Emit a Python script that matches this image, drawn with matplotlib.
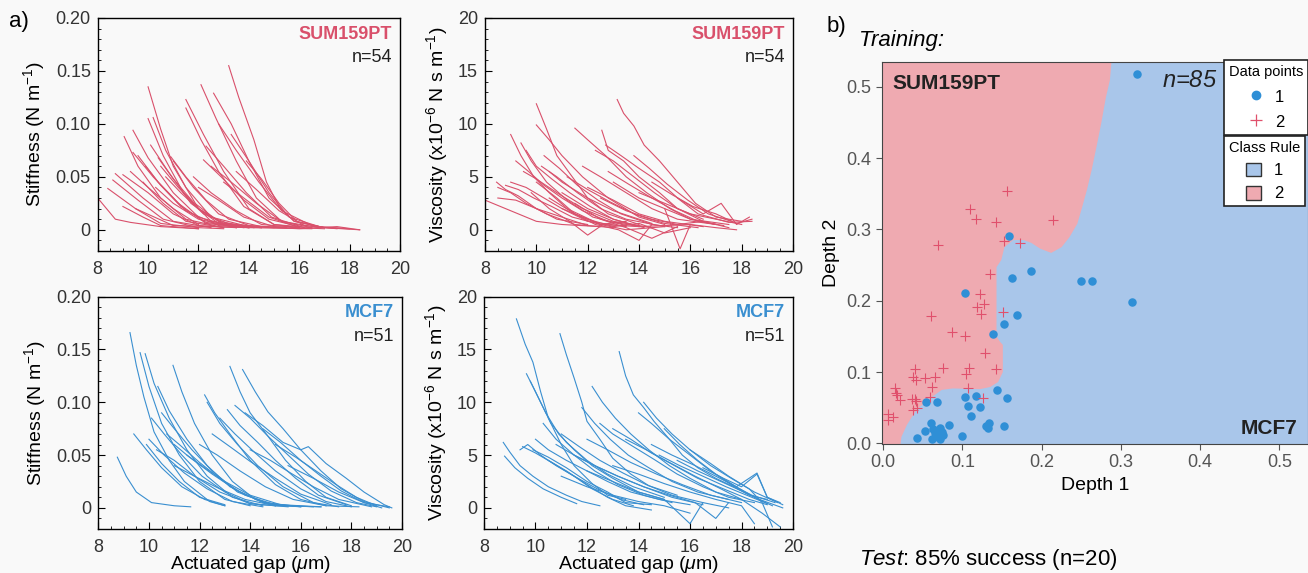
# stiffness / viscosity traces and the depth classifier map
import matplotlib
matplotlib.use('Agg')
import matplotlib.pyplot as plt
from matplotlib.lines import Line2D
from matplotlib.patches import Patch
from matplotlib.ticker import MultipleLocator

plt.rcParams['font.family'] = ['Liberation Sans', 'DejaVu Sans']
plt.rcParams['mathtext.fontset'] = 'custom'
plt.rcParams['mathtext.rm'] = 'Liberation Sans'
plt.rcParams['mathtext.it'] = 'Liberation Sans:italic'

red = '#d9506b'
blue = '#3a8fd0'
bg = '#f9f9f9'

# ---- panel a data: each trace is a list of (gap um, value) points ----
sum_stiff = [
    [(8.0, 0.030), (8.7, 0.010), (9.3, 0.007), (10.5, 0.003), (12.0, 0.001)],
    [(8.4, 0.039), (9.5, 0.020), (10.5, 0.006), (12.0, 0.002)],
    [(8.6, 0.047), (9.6, 0.028), (10.6, 0.010), (12.0, 0.002), (13.0, 0.001)],
    [(8.7, 0.053), (9.8, 0.030), (11.0, 0.008), (12.5, 0.002)],
    [(9.0, 0.052), (10.0, 0.035), (11.0, 0.015), (12.0, 0.004), (13.5, 0.002)],
    [(9.05, 0.088), (9.6, 0.060), (10.5, 0.030), (11.5, 0.010), (13.0, 0.002)],
    [(9.4, 0.094), (10.0, 0.068), (11.0, 0.035), (12.0, 0.012), (13.5, 0.002)],
    [(9.4, 0.073), (10.2, 0.050), (11.2, 0.025), (12.3, 0.006), (14.0, 0.002)],
    [(9.3, 0.055), (10.0, 0.040), (11.0, 0.020), (12.0, 0.005)],
    [(9.0, 0.022), (9.8, 0.012), (10.5, 0.004), (12.0, 0.001)],
    [(9.6, 0.070), (10.4, 0.045), (11.5, 0.018), (12.8, 0.004), (14.0, 0.002)],
    [(9.8, 0.045), (10.6, 0.025), (11.5, 0.008), (13.0, 0.002)],
    [(10.0, 0.135), (10.5, 0.095), (11.0, 0.060), (12.0, 0.020), (13.0, 0.005), (14.5, 0.002)],
    [(10.2, 0.106), (10.7, 0.075), (11.5, 0.040), (12.5, 0.012), (14.0, 0.003)],
    [(10.0, 0.105), (10.6, 0.070), (11.4, 0.035), (12.5, 0.008), (14.0, 0.002)],
    [(10.1, 0.080), (10.8, 0.055), (11.7, 0.025), (12.8, 0.006), (14.5, 0.002)],
    [(10.9, 0.069), (11.5, 0.050), (12.3, 0.028), (13.2, 0.010), (14.5, 0.003), (15.5, 0.002)],
    [(10.5, 0.060), (11.2, 0.040), (12.0, 0.020), (13.0, 0.006), (15.0, 0.002)],
    [(10.7, 0.050), (11.3, 0.035), (12.2, 0.015), (13.5, 0.003)],
    [(11.0, 0.065), (11.8, 0.040), (12.8, 0.015), (14.0, 0.004), (15.5, 0.002)],
    [(10.3, 0.040), (11.0, 0.025), (12.0, 0.010), (13.5, 0.002)],
    [(9.9, 0.060), (10.5, 0.042), (11.3, 0.022), (12.3, 0.007), (13.8, 0.002)],
    [(10.4, 0.068), (11.0, 0.048), (11.8, 0.026), (12.8, 0.008), (14.2, 0.002)],
    [(11.5, 0.123), (12.2, 0.090), (13.0, 0.055), (14.0, 0.020), (15.0, 0.005), (16.5, 0.002)],
    [(11.5, 0.115), (12.1, 0.085), (12.8, 0.055), (13.8, 0.022), (15.0, 0.005), (16.0, 0.002)],
    [(12.1, 0.137), (12.7, 0.105), (13.5, 0.065), (14.3, 0.030), (15.3, 0.008), (16.5, 0.002)],
    [(12.6, 0.129), (13.3, 0.100), (14.0, 0.065), (14.8, 0.030), (15.8, 0.008), (17.0, 0.002)],
    [(12.2, 0.066), (12.9, 0.050), (13.8, 0.028), (14.8, 0.010), (16.0, 0.003)],
    [(12.3, 0.079), (13.0, 0.060), (13.9, 0.035), (14.9, 0.012), (16.2, 0.002)],
    [(11.8, 0.050), (12.5, 0.035), (13.5, 0.018), (14.5, 0.005), (16.0, 0.002)],
    [(12.5, 0.060), (13.3, 0.045), (14.3, 0.025), (15.3, 0.008), (16.8, 0.002)],
    [(12.0, 0.040), (12.8, 0.028), (13.8, 0.012), (15.0, 0.003), (17.0, 0.001)],
    [(13.2, 0.155), (13.6, 0.125), (14.2, 0.085), (14.7, 0.045), (15.2, 0.022), (15.8, 0.008), (17.0, 0.002), (18.0, 0.001)],
    [(13.9, 0.065), (14.5, 0.048), (15.2, 0.025), (15.9, 0.008), (17.0, 0.002), (18.4, 0.000)],
    [(13.3, 0.090), (14.0, 0.065), (14.8, 0.035), (15.6, 0.012), (16.8, 0.003), (18.0, 0.001)],
    [(13.5, 0.055), (14.3, 0.038), (15.2, 0.018), (16.2, 0.004), (17.5, 0.001)],
    [(12.8, 0.100), (13.5, 0.075), (14.4, 0.045), (15.3, 0.018), (16.5, 0.004)],
    [(13.0, 0.045), (13.8, 0.030), (14.8, 0.012), (16.0, 0.002)],
    [(14.0, 0.003), (16.0, 0.001), (17.5, 0.003), (18.4, 0.000)],
    [(9.5, 0.020), (11.0, 0.004), (14.0, 0.002), (16.5, 0.001)],
]

sum_visc = [
    [(8.0, 2.8), (8.6, 2.2), (9.3, 1.5), (10.0, 0.8), (11.0, 0.5), (12.5, 0.3)],
    [(8.45, 4.5), (8.8, 3.8), (9.3, 3.2), (10.0, 2.0), (10.8, 1.0), (12.0, 0.5)],
    [(8.5, 4.0), (9.0, 3.5), (9.6, 2.5), (10.4, 1.5), (11.5, 0.5), (13.0, 0.2)],
    [(8.5, 3.0), (9.2, 2.8), (10.0, 2.0), (11.0, 1.2), (12.0, 0.4)],
    [(8.8, 4.2), (9.3, 3.8), (9.9, 3.0), (10.6, 2.2), (11.4, 1.2), (12.5, 0.5), (13.5, 0.8)],
    [(9.0, 9.0), (9.4, 7.0), (9.9, 5.0), (10.5, 3.5), (11.2, 2.0), (12.5, 0.5), (14.0, 0.3)],
    [(9.4, 8.2), (9.8, 6.5), (10.4, 4.5), (11.2, 2.8), (12.2, 1.2), (13.5, 0.4)],
    [(9.2, 6.5), (9.7, 5.5), (10.3, 4.2), (11.0, 3.0), (11.8, 1.8), (12.8, 0.8), (14.0, 0.3)],
    [(9.6, 7.5), (10.0, 6.0), (10.6, 4.8), (11.3, 3.5), (12.1, 2.2), (13.0, 1.0), (14.2, 0.2)],
    [(9.0, 4.5), (9.6, 4.0), (10.3, 3.0), (11.0, 2.0), (12.0, 0.8), (13.5, 0.3)],
    [(9.5, 5.5), (10.0, 4.8), (10.8, 3.5), (11.8, 2.0), (13.0, 0.8), (14.5, 0.2)],
    [(10.0, 11.9), (10.4, 9.5), (10.8, 7.0), (11.4, 5.0), (12.0, 3.0), (12.8, 1.5), (14.0, 0.5)],
    [(10.0, 9.9), (10.5, 8.5), (11.0, 7.0), (11.8, 5.0), (12.8, 3.0), (14.0, 1.2), (15.0, 0.5)],
    [(10.2, 6.0), (10.8, 5.0), (11.6, 3.5), (12.5, 2.0), (13.5, 1.0), (15.0, 0.3)],
    [(10.3, 7.0), (10.9, 5.8), (11.6, 4.2), (12.4, 2.8), (13.3, 1.5), (14.5, 0.5), (15.5, 0.2)],
    [(10.5, 5.5), (11.0, 4.5), (12.0, 3.0), (13.0, 1.8), (14.5, 0.6)],
    [(11.2, 5.0), (12.0, 3.8), (12.9, 2.6), (13.9, 1.4), (15.0, 0.6), (16.3, 0.2)],
    [(11.5, 9.6), (12.0, 8.5), (12.7, 7.0), (13.5, 5.0), (14.3, 3.5), (15.2, 2.0), (16.0, 1.0), (17.0, 0.5)],
    [(12.55, 9.4), (12.8, 7.5), (13.4, 6.5), (14.0, 5.0), (14.8, 3.5), (15.5, 2.0), (16.5, 1.0)],
    [(13.15, 12.3), (13.4, 11.0), (13.8, 9.8), (14.2, 8.0), (14.8, 6.5), (15.5, 4.5), (16.2, 2.5), (17.0, 1.2), (18.0, 0.8)],
    [(12.3, 7.5), (13.0, 6.5), (13.8, 5.0), (14.6, 3.5), (15.5, 2.0), (16.5, 0.8)],
    [(11.8, 6.0), (12.5, 5.0), (13.5, 3.5), (14.5, 2.0), (15.5, 1.0), (17.0, 0.5)],
    [(12.7, 8.0), (13.3, 7.0), (14.0, 5.8), (14.8, 4.5), (15.6, 2.8), (16.3, 1.5), (17.5, 0.7), (18.4, 0.8)],
    [(12.8, 5.5), (13.6, 4.3), (14.5, 3.0), (15.4, 1.8), (16.3, 0.8), (17.3, 0.4)],
    [(13.8, 7.0), (14.4, 5.8), (15.1, 4.3), (15.9, 2.8), (16.7, 1.5), (17.6, 0.8)],
    [(10.5, 3.0), (11.5, 1.5), (12.5, 0.5), (13.5, 0.0), (15.0, 0.3)],
    [(11.0, 3.5), (12.0, 2.0), (13.0, 1.0), (14.0, 0.3), (16.0, 0.5)],
    [(11.0, 2.0), (12.0, 1.0), (13.0, 0.3), (14.0, 0.6), (15.0, -0.3), (16.0, 0.2)],
    [(12.0, 4.0), (13.0, 2.8), (14.0, 1.5), (15.0, 0.8), (16.5, 0.3)],
    [(12.5, 3.0), (13.5, 1.8), (14.5, 1.0), (15.5, 0.5), (16.5, 0.8), (17.5, 0.2)],
    [(13.0, 4.5), (14.0, 3.0), (15.0, 2.0), (16.0, 1.0), (17.5, 0.5)],
    [(14.0, 3.5), (15.0, 2.5), (16.0, 1.5), (17.0, 1.0), (18.0, 0.5)],
    [(14.5, 4.5), (15.3, 3.3), (16.1, 2.2), (17.0, 1.5), (17.8, 0.6), (18.4, 1.0)],
    [(11.5, 2.5), (12.5, 1.0), (13.5, 0.2), (14.5, -0.8), (15.5, 0.3)],
    [(9.8, 3.5), (10.5, 2.0), (11.3, 0.8), (12.0, -0.5), (12.6, 0.5)],
    [(15.0, 2.0), (15.6, -1.8), (16.0, 0.5), (17.0, 0.2), (17.8, 0.0)],
    [(10.0, 4.5), (10.8, 3.0), (11.5, 1.5), (12.3, 0.5), (13.2, 0.0), (14.0, -1.0), (14.5, 0.5)],
    [(15.5, 3.0), (16.5, 1.5), (17.2, 2.5), (17.8, 0.5), (18.3, 1.2)],
]

mcf_stiff = [
    [(8.75, 0.048), (9.1, 0.030), (9.5, 0.015), (10.1, 0.005), (11.0, 0.002), (11.65, 0.001)],
    [(9.25, 0.166), (9.5, 0.135), (9.8, 0.105), (10.2, 0.072), (10.8, 0.045), (11.4, 0.025), (12.4, 0.006), (13.0, 0.002)],
    [(9.65, 0.147), (10.0, 0.115), (10.5, 0.080), (11.2, 0.050), (12.0, 0.025), (13.0, 0.008), (14.0, 0.002)],
    [(9.85, 0.146), (10.2, 0.118), (10.8, 0.085), (11.5, 0.055), (12.3, 0.030), (13.3, 0.010), (14.5, 0.002)],
    [(9.4, 0.070), (9.9, 0.055), (10.5, 0.038), (11.3, 0.020), (12.2, 0.008), (13.0, 0.002)],
    [(10.35, 0.115), (10.8, 0.092), (11.5, 0.065), (12.3, 0.040), (13.2, 0.020), (14.5, 0.005), (15.5, 0.002)],
    [(10.95, 0.135), (11.3, 0.110), (11.8, 0.080), (12.5, 0.050), (13.3, 0.025), (14.2, 0.008), (15.0, 0.002)],
    [(10.1, 0.085), (10.6, 0.070), (11.3, 0.050), (12.1, 0.030), (13.0, 0.015), (14.0, 0.004), (15.0, 0.002)],
    [(10.0, 0.065), (10.6, 0.050), (11.4, 0.033), (12.3, 0.018), (13.3, 0.006), (14.5, 0.001)],
    [(9.9, 0.060), (10.5, 0.042), (11.2, 0.025), (12.0, 0.010), (13.0, 0.003)],
    [(10.5, 0.090), (11.0, 0.075), (11.7, 0.055), (12.5, 0.035), (13.5, 0.015), (14.8, 0.003), (16.0, 0.001)],
    [(10.3, 0.055), (11.0, 0.045), (11.8, 0.030), (12.8, 0.015), (14.0, 0.004), (15.5, 0.001)],
    [(11.0, 0.060), (11.6, 0.048), (12.5, 0.032), (13.5, 0.016), (14.6, 0.005), (16.0, 0.001)],
    [(11.5, 0.050), (12.2, 0.038), (13.0, 0.025), (14.0, 0.012), (15.2, 0.003), (16.8, 0.001)],
    [(12.2, 0.107), (12.6, 0.090), (13.2, 0.070), (14.0, 0.045), (15.0, 0.022), (16.0, 0.008), (17.0, 0.002)],
    [(12.3, 0.100), (12.8, 0.080), (13.5, 0.060), (14.3, 0.040), (15.3, 0.020), (16.5, 0.005), (17.5, 0.001)],
    [(13.2, 0.134), (13.6, 0.110), (14.0, 0.090), (14.7, 0.068), (15.4, 0.045), (16.2, 0.025), (17.0, 0.010), (18.0, 0.002)],
    [(13.7, 0.131), (14.2, 0.110), (14.7, 0.091), (15.3, 0.075), (16.0, 0.055), (16.8, 0.035), (17.6, 0.018), (18.5, 0.006), (19.5, 0.000)],
    [(13.1, 0.093), (13.6, 0.078), (14.3, 0.062), (15.0, 0.045), (15.8, 0.028), (16.7, 0.012), (17.8, 0.003)],
    [(13.4, 0.097), (14.0, 0.085), (14.7, 0.068), (15.5, 0.050), (16.3, 0.032), (17.2, 0.016), (18.2, 0.005), (19.0, 0.001)],
    [(12.8, 0.085), (13.4, 0.070), (14.2, 0.052), (15.0, 0.035), (16.0, 0.018), (17.0, 0.006), (18.0, 0.001)],
    [(13.8, 0.090), (14.5, 0.078), (15.3, 0.062), (16.0, 0.055), (16.3, 0.058), (17.0, 0.042), (17.8, 0.028), (18.5, 0.015), (19.3, 0.003), (19.6, 0.000)],
    [(12.5, 0.070), (13.2, 0.058), (14.0, 0.044), (15.0, 0.028), (16.0, 0.013), (17.2, 0.003)],
    [(14.5, 0.075), (15.2, 0.062), (16.0, 0.045), (16.8, 0.030), (17.6, 0.016), (18.5, 0.005), (19.2, 0.000)],
    [(14.0, 0.055), (14.8, 0.045), (15.6, 0.033), (16.5, 0.020), (17.5, 0.008), (18.8, 0.001)],
    [(15.0, 0.060), (15.8, 0.048), (16.6, 0.035), (17.4, 0.022), (18.2, 0.010), (19.0, 0.002)],
    [(11.0, 0.040), (11.8, 0.030), (12.8, 0.018), (13.8, 0.008), (15.0, 0.002), (16.8, 0.001)],
    [(10.7, 0.070), (11.2, 0.060), (12.0, 0.043), (12.9, 0.026), (13.8, 0.012), (15.0, 0.003), (16.5, 0.001)],
    [(15.5, 0.040), (16.5, 0.028), (17.5, 0.015), (18.5, 0.005), (19.5, 0.001)],
    [(12.0, 0.060), (12.7, 0.050), (13.6, 0.035), (14.6, 0.020), (15.7, 0.008), (17.0, 0.002), (18.3, 0.001)],
]

mcf_visc = [
    [(9.26, 17.9), (9.6, 15.5), (9.9, 13.8), (10.2, 11.0), (10.5, 8.5), (11.0, 6.0), (11.5, 4.0), (12.2, 2.3), (12.8, 1.2), (13.5, 0.8)],
    [(10.95, 16.5), (11.2, 14.5), (11.5, 12.3), (11.8, 10.0), (12.0, 8.2), (12.5, 6.5), (13.0, 4.7), (13.7, 3.2), (14.4, 2.1), (15.5, 1.2)],
    [(13.25, 14.8), (13.5, 12.5), (13.8, 10.7), (14.2, 9.5), (14.6, 8.2), (15.2, 6.5), (15.7, 5.0), (16.3, 3.8), (17.0, 2.8), (17.7, 2.0), (18.3, 1.2), (19.0, 0.8)],
    [(9.65, 12.7), (10.0, 11.0), (10.4, 9.0), (10.9, 7.0), (11.5, 5.5), (12.2, 4.0), (13.0, 2.8), (14.0, 1.5), (15.0, 0.8)],
    [(9.8, 12.0), (10.2, 10.0), (10.6, 8.0), (11.2, 6.2), (12.0, 4.5), (12.8, 3.2), (13.8, 2.0), (15.0, 1.0)],
    [(12.2, 11.5), (12.6, 10.0), (13.1, 8.5), (13.7, 7.0), (14.4, 5.5), (15.2, 4.0), (16.0, 2.8), (17.0, 1.5), (18.0, 0.8)],
    [(8.75, 6.2), (9.0, 5.3), (9.4, 4.0), (9.9, 3.0), (10.5, 2.0), (11.2, 1.2), (11.8, 0.6), (12.5, 0.2)],
    [(8.8, 4.9), (9.2, 3.8), (9.7, 2.8), (10.3, 1.8), (11.0, 1.0), (11.6, 0.4)],
    [(9.4, 5.5), (9.7, 6.0), (10.2, 5.0), (10.8, 4.0), (11.5, 3.0), (12.2, 1.8), (13.0, 0.8), (13.8, 0.2)],
    [(9.5, 5.8), (10.0, 5.2), (10.7, 4.2), (11.5, 3.0), (12.4, 1.8), (13.3, 0.8), (14.2, 0.3)],
    [(9.9, 5.5), (10.5, 4.8), (11.2, 3.8), (12.0, 2.5), (12.8, 1.5), (13.5, 0.5), (14.5, 0.3)],
    [(10.3, 8.0), (10.8, 6.5), (11.5, 5.0), (12.3, 3.5), (13.2, 2.2), (14.2, 1.2), (15.3, 0.5)],
    [(10.8, 6.0), (11.5, 5.0), (12.3, 4.0), (13.2, 3.0), (14.2, 2.0), (15.3, 1.0), (16.5, 0.3)],
    [(11.0, 7.0), (11.7, 5.8), (12.5, 4.5), (13.4, 3.3), (14.3, 2.2), (15.3, 1.2), (16.5, 0.5)],
    [(12.0, 6.5), (12.8, 5.5), (13.7, 4.3), (14.7, 3.2), (15.7, 2.2), (16.8, 1.2), (18.0, 0.5)],
    [(12.5, 8.0), (13.0, 7.0), (13.8, 5.8), (14.6, 4.6), (15.5, 3.2), (16.5, 2.0), (17.5, 1.0), (18.5, 0.5)],
    [(13.0, 7.5), (13.7, 6.5), (14.5, 5.2), (15.4, 4.0), (16.3, 2.8), (17.3, 1.8), (18.3, 0.8), (19.0, 0.3)],
    [(14.0, 9.0), (14.5, 8.0), (15.2, 6.5), (16.0, 5.0), (16.8, 3.5), (17.6, 2.2), (18.4, 1.2), (19.3, 0.5)],
    [(15.0, 7.5), (15.6, 6.0), (16.3, 4.5), (17.0, 3.2), (17.8, 2.0), (18.6, 3.3), (19.0, 1.0), (19.6, 0.3)],
    [(13.5, 6.5), (14.3, 5.5), (15.2, 4.3), (16.2, 3.0), (17.2, 1.8), (18.0, 0.8), (18.8, -0.5), (19.5, -1.8)],
    [(11.5, 5.0), (12.3, 4.0), (13.2, 3.0), (14.2, 2.0), (15.2, 1.2), (16.2, 0.5), (17.0, -1.0), (17.5, 0.5)],
    [(12.0, 3.5), (13.0, 2.5), (14.0, 1.5), (15.0, 0.8), (16.0, -1.5), (16.5, 0.5), (17.5, 0.0)],
    [(11.0, 3.0), (12.0, 2.0), (13.0, 1.2), (14.0, 0.6), (15.0, 0.2), (16.0, -0.5)],
    [(10.5, 4.5), (11.2, 3.5), (12.0, 2.2), (12.8, 1.0), (13.5, 0.2), (14.5, -0.2)],
    [(14.5, 6.0), (15.3, 5.0), (16.2, 4.0), (17.0, 3.0), (17.8, 2.0), (18.5, 1.0), (19.2, 0.2)],
    [(14.8, 5.0), (15.6, 4.0), (16.5, 3.0), (17.4, 2.0), (18.2, 1.2), (19.0, 0.4)],
    [(15.5, 4.5), (16.3, 3.5), (17.2, 2.5), (18.0, 1.6), (18.7, 0.8), (19.6, 0.0)],
    [(16.0, 5.5), (16.8, 4.2), (17.5, 3.0), (18.3, 1.8), (18.8, 0.5), (19.2, -1.8)],
    [(16.5, 3.8), (17.3, 2.8), (18.0, 2.0), (18.6, 3.2), (19.0, 1.0), (19.5, 0.5)],
    [(13.0, 4.0), (14.0, 3.2), (15.0, 2.3), (16.0, 1.5), (17.0, 0.8), (18.0, 0.2), (18.5, -1.5)],
    [(11.8, 9.5), (12.3, 8.0), (12.9, 6.5), (13.6, 5.0), (14.4, 3.8), (15.3, 2.5), (16.3, 1.5), (17.5, 0.8)],
    [(14.2, 10.0), (14.7, 8.5), (15.3, 7.0), (16.0, 5.5), (16.8, 4.0), (17.6, 2.8), (18.5, 1.5), (19.4, 0.5)],
    [(10.0, 6.5), (10.5, 5.5), (11.2, 4.5), (12.0, 3.5), (12.8, 2.5), (13.7, 1.5), (14.8, 0.8), (16.0, 0.3)],
]

gap_ticks = [8, 10, 12, 14, 16, 18, 20]
stiff_ticks = [0, 0.05, 0.10, 0.15, 0.20]
stiff_labels = ['0', '0.05', '0.10', '0.15', '0.20']
visc_ticks = [0, 5, 10, 15, 20]

# ---- panel b data ----
# class 1 (MCF7) points and class 2 (SUM159PT) points, (depth 1, depth 2)
class1_pts = [
    (0.320, 0.518), (0.159, 0.291), (0.163, 0.232), (0.187, 0.242), (0.250, 0.228),
    (0.264, 0.228), (0.103, 0.211), (0.314, 0.198), (0.169, 0.180), (0.153, 0.168),
    (0.139, 0.153), (0.143, 0.075), (0.156, 0.063), (0.103, 0.065), (0.117, 0.067),
    (0.107, 0.052), (0.122, 0.051), (0.111, 0.038), (0.054, 0.058), (0.068, 0.058),
    (0.060, 0.029), (0.083, 0.026), (0.053, 0.017), (0.043, 0.008), (0.063, 0.020),
    (0.065, 0.014), (0.072, 0.021), (0.074, 0.016), (0.076, 0.012), (0.069, 0.009),
    (0.062, 0.006), (0.072, 0.006), (0.099, 0.010), (0.130, 0.025), (0.133, 0.028),
    (0.132, 0.021), (0.152, 0.024),
]
class2_pts = [
    (0.156, 0.354), (0.110, 0.328), (0.117, 0.315), (0.142, 0.311), (0.214, 0.313),
    (0.069, 0.278), (0.152, 0.284), (0.172, 0.281), (0.135, 0.237), (0.122, 0.209),
    (0.127, 0.196), (0.119, 0.191), (0.124, 0.182), (0.151, 0.184), (0.060, 0.178),
    (0.087, 0.156), (0.103, 0.150), (0.128, 0.127), (0.040, 0.104), (0.075, 0.105),
    (0.108, 0.105), (0.104, 0.097), (0.142, 0.104), (0.038, 0.093), (0.042, 0.089),
    (0.053, 0.091), (0.065, 0.093), (0.062, 0.079), (0.107, 0.077), (0.059, 0.065),
    (0.126, 0.063), (0.015, 0.077), (0.016, 0.070), (0.018, 0.068), (0.021, 0.061),
    (0.036, 0.062), (0.040, 0.062), (0.042, 0.059), (0.037, 0.047), (0.043, 0.049),
    (0.006, 0.041), (0.012, 0.037), (0.006, 0.033),
]
# class rule boundary, walked from the bottom edge to the top edge
bound_x = [0.021, 0.023, 0.030, 0.042, 0.059, 0.074, 0.088, 0.122, 0.135, 0.145, 0.151,
           0.151, 0.147, 0.143, 0.143, 0.149, 0.153, 0.164, 0.177, 0.187, 0.198, 0.212,
           0.225, 0.235, 0.245, 0.251, 0.257, 0.263, 0.269, 0.275, 0.281, 0.286, 0.288, 0.288]
bound_y = [-0.01, 0.009, 0.026, 0.047, 0.063, 0.075, 0.077, 0.076, 0.079, 0.086, 0.100,
           0.138, 0.143, 0.150, 0.247, 0.257, 0.275, 0.285, 0.285, 0.281, 0.273, 0.267,
           0.275, 0.289, 0.308, 0.331, 0.355, 0.383, 0.415, 0.448, 0.485, 0.509, 0.534, 0.55]
depth_ticks = [0.0, 0.1, 0.2, 0.3, 0.4, 0.5]

fig = plt.figure(figsize=(13.08, 5.73), dpi=100, facecolor=bg)


def draw_curves(ax, curves, colour):
    for c in curves:
        xs = [p[0] for p in c]
        ys = [p[1] for p in c]
        ax.plot(xs, ys, color=colour, lw=0.8)


def setup_a(ax, stiff):
    ax.set_facecolor(bg)
    ax.set_xlim(8, 20)
    ax.set_xticks(gap_ticks)
    ax.xaxis.set_minor_locator(MultipleLocator(0.5))
    if stiff:
        ax.set_ylim(-0.02, 0.20)
        ax.set_yticks(stiff_ticks)
        ax.set_yticklabels(stiff_labels)
        ax.yaxis.set_minor_locator(MultipleLocator(0.01))
        ax.set_ylabel('Stiffness (N m$^{-1}$)', fontsize=14, labelpad=6)
    else:
        ax.set_ylim(-2, 20)
        ax.set_yticks(visc_ticks)
        ax.yaxis.set_minor_locator(MultipleLocator(1))
        ax.set_ylabel('Viscosity (x10$^{-6}$ N s m$^{-1}$)', fontsize=14, labelpad=6)
    ax.tick_params(which='both', direction='in', labelsize=13, labelcolor='#333333', pad=5)
    ax.tick_params(which='major', length=5)
    ax.tick_params(which='minor', length=2.5)
    ax.tick_params(axis='x', pad=7)
    for s in ax.spines.values():
        s.set_linewidth(1.0)


def cell_label(ax, name, n, colour):
    ax.text(0.975, 0.93, name, transform=ax.transAxes, ha='right', va='center',
            fontsize=13, fontweight='bold', color=colour)
    ax.text(0.975, 0.83, n, transform=ax.transAxes, ha='right', va='center',
            fontsize=13, color='#222222')


# panel a) four trace plots
ax1 = fig.add_axes([0.0747, 0.562, 0.2311, 0.4066])
draw_curves(ax1, sum_stiff, red)
setup_a(ax1, True)
cell_label(ax1, 'SUM159PT', 'n=54', red)

ax2 = fig.add_axes([0.3708, 0.562, 0.2355, 0.4066])
draw_curves(ax2, sum_visc, red)
setup_a(ax2, False)
cell_label(ax2, 'SUM159PT', 'n=54', red)

ax3 = fig.add_axes([0.0752, 0.0768, 0.2321, 0.4054])
draw_curves(ax3, mcf_stiff, blue)
setup_a(ax3, True)
cell_label(ax3, 'MCF7', 'n=51', blue)
ax3.set_xlabel('Actuated gap ($\\mathit{\\mu}$m)', fontsize=14, labelpad=-1)

ax4 = fig.add_axes([0.370, 0.0768, 0.2363, 0.4054])
draw_curves(ax4, mcf_visc, blue)
setup_a(ax4, False)
cell_label(ax4, 'MCF7', 'n=51', blue)
ax4.set_xlabel('Actuated gap ($\\mathit{\\mu}$m)', fontsize=14, labelpad=-1)

fig.text(0.007, 0.962, 'a)', fontsize=16, va='center')

# panel b) classifier map
region_red = '#efaab1'
region_blue = '#a9c6ea'
axb = fig.add_axes([0.674, 0.225, 0.326, 0.666])
axb.set_facecolor(region_blue)
axb.set_xlim(-0.002, 0.536)
axb.set_ylim(-0.001, 0.534)
poly_x = [-0.05] + bound_x + [-0.05]
poly_y = [-0.05] + bound_y + [0.6]
axb.fill(poly_x, poly_y, color=region_red, lw=0, zorder=1)

axb.scatter([p[0] for p in class1_pts], [p[1] for p in class1_pts], s=26,
            color='#2f8fd6', zorder=3)
axb.scatter([p[0] for p in class2_pts], [p[1] for p in class2_pts], s=55,
            marker='+', color='#e0506c', linewidths=0.8, zorder=3)

axb.set_xticks(depth_ticks)
axb.set_yticks(depth_ticks)
axb.set_xticklabels(['%.1f' % t for t in depth_ticks])
axb.set_yticklabels(['%.1f' % t for t in depth_ticks])
axb.tick_params(direction='out', length=4, labelsize=13, labelcolor='#555555', color='#555555')
axb.set_xlabel('Depth 1', fontsize=14, labelpad=4)
axb.set_ylabel('Depth 2', fontsize=14, labelpad=4)
for s in axb.spines.values():
    s.set_color('#444444')

axb.text(0.026, 0.946, 'SUM159PT', transform=axb.transAxes, fontsize=15,
         fontweight='bold', color='#222222', va='center', zorder=4)
axb.text(0.787, 0.953, '$n$=85', transform=axb.transAxes, fontsize=17,
         style='italic', ha='right', va='center', color='#222222', zorder=4)
axb.text(0.975, 0.042, 'MCF7', transform=axb.transAxes, fontsize=15,
         fontweight='bold', ha='right', va='center', color='#222222', zorder=4)

# two stacked legends; they run past the right edge of the picture like the original
h_pts = [Line2D([], [], ls='none', marker='o', ms=6, color='#2f8fd6', label='1'),
         Line2D([], [], ls='none', marker='+', ms=9, mew=0.9, color='#e0506c', label='2')]
leg1 = axb.legend(handles=h_pts, title='Data points', loc='upper left',
                  bbox_to_anchor=(0.803, 1.006), borderaxespad=0,
                  fontsize=12, title_fontsize=10.5, frameon=True, fancybox=False,
                  edgecolor='#222222', framealpha=1, handlelength=1.0, handleheight=1.0,
                  handletextpad=0.6, labelspacing=0.55, borderpad=0.3)
leg1.get_frame().set_linewidth(1.2)
axb.add_artist(leg1)
h_rule = [Patch(facecolor=region_blue, edgecolor='#333333', label='1'),
          Patch(facecolor=region_red, edgecolor='#333333', label='2')]
leg2 = axb.legend(handles=h_rule, title='Class Rule', loc='upper left',
                  bbox_to_anchor=(0.803, 0.807), borderaxespad=0,
                  fontsize=12, title_fontsize=10.5, frameon=True, fancybox=False,
                  edgecolor='#222222', framealpha=1, handlelength=0.9, handleheight=0.9,
                  handletextpad=0.8, labelspacing=0.45, borderpad=0.3)
leg2.get_frame().set_linewidth(1.2)
leg1.set_zorder(5)
leg2.set_zorder(5)

fig.text(0.632, 0.953, 'b)', fontsize=16, va='center')
fig.text(0.657, 0.929, 'Training:', fontsize=16, style='italic', va='center')
fig.text(0.657, 0.023, '$\\mathit{Test}$: 85% success (n=20)', fontsize=16, va='center')

plt.savefig('out.png', dpi=100, facecolor=bg)
